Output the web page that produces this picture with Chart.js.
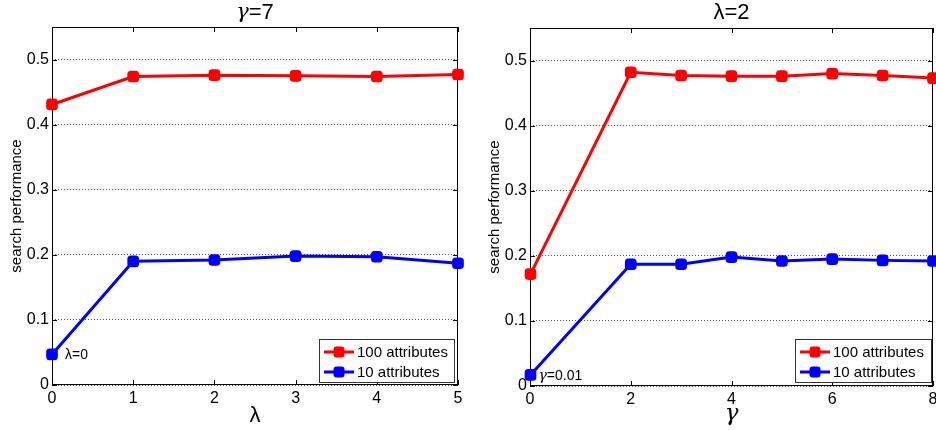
<!DOCTYPE html>
<html><head><meta charset="utf-8">
<script src="https://cdn.jsdelivr.net/npm/chart.js@4.4.1/dist/chart.umd.min.js"></script>
<style>
html,body{margin:0;padding:0;background:#fff;overflow:hidden;width:936px;height:430px;position:relative;}
#l{position:absolute;left:0;top:0;}
#r{position:absolute;left:470px;top:0;}
</style></head><body>
<canvas id="l" width="470" height="430"></canvas>
<canvas id="r" width="476" height="430"></canvas>
<script>
// ---- data ----
const lambdaValues = [0, 1, 2, 3, 4, 5];
const lambdaAttr100 = [0.431, 0.474, 0.476, 0.475, 0.474, 0.477];
const lambdaAttr10 = [0.047, 0.190, 0.192, 0.198, 0.197, 0.187];
const gammaValues = [0.01, 2, 3, 4, 5, 6, 7, 8];
const gammaAttr100 = [0.172, 0.482, 0.477, 0.476, 0.476, 0.480, 0.477, 0.473];
const gammaAttr10 = [0.017, 0.187, 0.187, 0.198, 0.192, 0.195, 0.193, 0.192];
const seriesLabels = ['100 attributes', '10 attributes'];
const seriesColors = ['#ff0000', '#0000ff'];
const yTickValues = [0, 0.1, 0.2, 0.3, 0.4, 0.5];
const lambdaTicks = [0, 1, 2, 3, 4, 5];
const gammaTicks = [0, 2, 4, 6, 8];
const yLabel = 'search performance';

const SANS = '"Liberation Sans", Arial, sans-serif';
const SERIF = '"DejaVu Serif", "Liberation Serif", serif';

function ds(label, color, xs, ys) {
  return {
    label, data: xs.map((x, i) => ({x, y: ys[i]})),
    borderColor: color, backgroundColor: color, borderWidth: 3,
    pointStyle: 'rectRounded', pointRadius: 6.8, pointBorderWidth: 0,
    pointBackgroundColor: color, tension: 0, clip: false
  };
}

function drawParts(ctx, parts, x, y, align) {
  let total = 0;
  parts.forEach(p => { ctx.font = p[1]; total += ctx.measureText(p[0]).width; });
  let cx = align === 'center' ? x - total / 2 : x;
  ctx.textAlign = 'left';
  ctx.textBaseline = 'middle';
  parts.forEach(p => { ctx.font = p[1]; ctx.fillText(p[0], cx, y); cx += ctx.measureText(p[0]).width; });
}

const framePlugin = {
  id: 'frame',
  beforeDatasetsDraw(chart) {
    const {ctx, chartArea: a, scales: {x, y}} = chart;
    ctx.save();
    ctx.strokeStyle = '#000';
    ctx.lineWidth = 1;
    ctx.strokeRect(Math.round(a.left) + 0.5, Math.round(a.top) + 0.5, Math.round(a.right - a.left) - 1, Math.round(a.bottom - a.top) - 1);
    ctx.beginPath();
    x.ticks.forEach(t => {
      const px = Math.round(x.getPixelForValue(t.value)) + 0.5;
      ctx.moveTo(px, a.top); ctx.lineTo(px, a.top + 5);
      ctx.moveTo(px, a.bottom); ctx.lineTo(px, a.bottom - 5);
    });
    y.ticks.forEach(t => {
      const py = Math.round(y.getPixelForValue(t.value)) + 0.5;
      ctx.moveTo(a.left, py); ctx.lineTo(a.left + 5, py);
      ctx.moveTo(a.right, py); ctx.lineTo(a.right - 5, py);
    });
    ctx.stroke();
    ctx.restore();
  },
  afterDatasetsDraw(chart, args, opts) {
    const {ctx, chartArea: a, scales: {x, y}} = chart;
    ctx.save();
    ctx.fillStyle = '#000';
    drawParts(ctx, opts.title, (a.left + a.right) / 2, 13, 'center');
    const d = chart.data.datasets[1].data[0];
    drawParts(ctx, opts.note, x.getPixelForValue(d.x) + opts.noteDx, y.getPixelForValue(d.y) + 1, 'left');
    const w = opts.legendW, h = 43;
    const bx = Math.round(a.right - opts.legendDr - w), by = Math.round(a.bottom - opts.legendDb - h);
    ctx.fillStyle = '#fff';
    ctx.fillRect(bx, by, w, h);
    ctx.strokeStyle = '#333';
    ctx.lineWidth = 1;
    ctx.strokeRect(bx + 0.5, by + 0.5, w, h);
    chart.data.datasets.forEach((dset, i) => {
      const ry = by + 13 + i * 20;
      ctx.strokeStyle = dset.borderColor;
      ctx.lineWidth = 3;
      ctx.beginPath(); ctx.moveTo(bx + 5, ry); ctx.lineTo(bx + 35, ry); ctx.stroke();
      ctx.fillStyle = dset.borderColor;
      ctx.beginPath();
      ctx.roundRect(bx + 20 - 5.5, ry - 5.5, 11, 11, 3);
      ctx.fill();
      ctx.fillStyle = '#000';
      ctx.font = '15px ' + SANS;
      ctx.textAlign = 'left'; ctx.textBaseline = 'middle';
      ctx.fillText(dset.label, bx + 38, ry + 1);
    });
    ctx.restore();
  }
};

function makeChart(id, cfg) {
  return new Chart(document.getElementById(id), {
    type: 'line',
    data: {datasets: [
      ds(seriesLabels[0], seriesColors[0], cfg.xs, cfg.s100),
      ds(seriesLabels[1], seriesColors[1], cfg.xs, cfg.s10)
    ]},
    options: {
      responsive: false, animation: false, devicePixelRatio: 1,
      layout: {padding: {top: cfg.top, right: cfg.padRight, left: 0, bottom: 0}},
      plugins: {
        legend: {display: false}, tooltip: {enabled: false}, title: {display: false},
        frame: {title: cfg.title, note: cfg.note, noteDx: cfg.noteDx, legendW: cfg.legendW, legendDr: cfg.legendDr, legendDb: cfg.legendDb}
      },
      scales: {
        x: {
          type: 'linear', min: 0, max: cfg.xMax,
          afterBuildTicks(s) { s.ticks = cfg.xTicks.map(v => ({value: v})); },
          grid: {display: false, drawTicks: false}, border: {display: false},
          ticks: {color: '#000', padding: 4, font: {family: SANS, size: 16}, maxRotation: 0},
          title: {display: true, text: cfg.xTitle, color: '#000', font: cfg.xTitleFont, padding: {top: 0, bottom: cfg.xTitlePb}},
          afterFit(s) { s.height = cfg.xHeight; }
        },
        y: {
          min: 0, max: 0.55,
          afterBuildTicks(s) { s.ticks = yTickValues.map(v => ({value: v})); },
          grid: {color: '#555', drawTicks: false, lineWidth: 1},
          border: {display: false, dash: [1, 2]},
          ticks: {color: '#000', padding: 3, font: {family: SANS, size: 16}},
          title: {display: true, text: yLabel, color: '#000', font: {family: SANS, size: 15}, padding: {top: cfg.yTitlePt, bottom: 0}},
          afterFit(s) { s.width = cfg.yWidth; }
        }
      }
    },
    plugins: [framePlugin]
  });
}

makeChart('l', {
  xs: lambdaValues, s100: lambdaAttr100, s10: lambdaAttr10,
  xMax: 5, xTicks: lambdaTicks, top: 27, padRight: 12, xHeight: 45, yWidth: 52, yTitlePt: 8,
  xTitle: 'λ', xTitleFont: {family: SANS, size: 22}, xTitlePb: 1,
  title: [['γ', 'italic 21px ' + SERIF], ['=7', '22px ' + SANS]],
  note: [['λ=0', '14px ' + SANS]], noteDx: 13,
  legendW: 135, legendDr: 4, legendDb: 3
});

makeChart('r', {
  xs: gammaValues, s100: gammaAttr100, s10: gammaAttr10,
  xMax: 8, xTicks: gammaTicks, top: 28, padRight: 13, xHeight: 44, yWidth: 60, yTitlePt: 16,
  xTitle: 'γ', xTitleFont: {family: SERIF, size: 23, style: 'italic'}, xTitlePb: 2,
  title: [['λ=2', '22px ' + SANS]],
  note: [['γ', 'italic 14px ' + SERIF], ['=0.01', '14px ' + SANS]], noteDx: 8,
  legendW: 136, legendDr: 2, legendDb: 4
});
</script>
</body></html>
